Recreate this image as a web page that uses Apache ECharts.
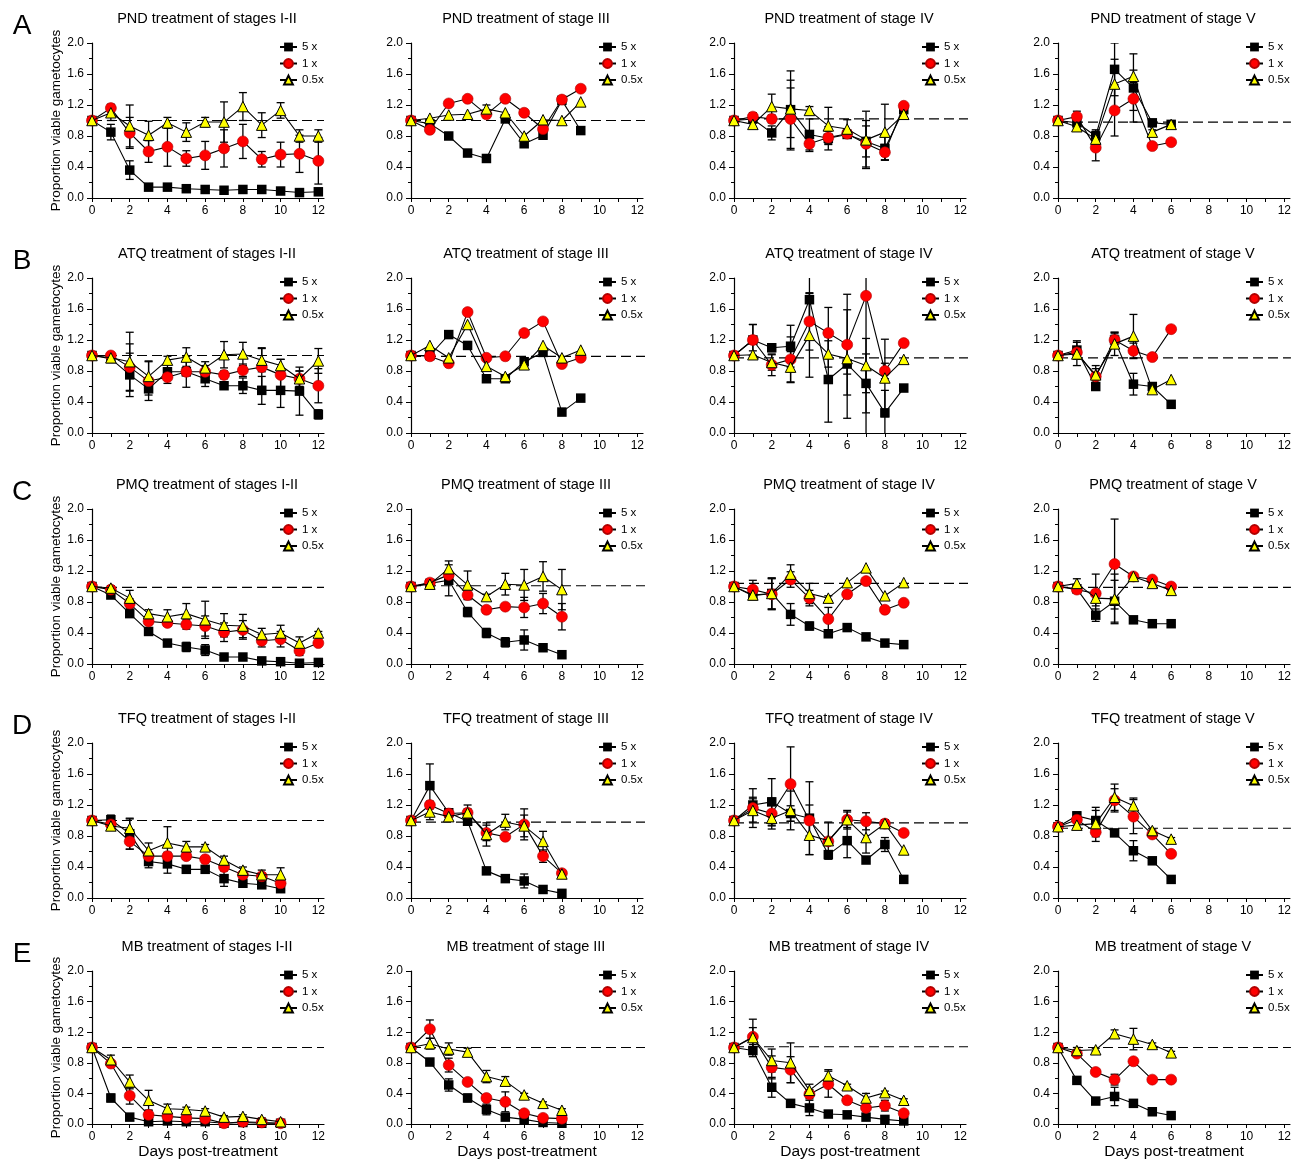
<!DOCTYPE html>
<html><head><meta charset="utf-8">
<script src="https://cdn.jsdelivr.net/npm/echarts@6/dist/echarts.min.js"></script>
<style>html,body{margin:0;padding:0;background:#fff}#chart{width:1294px;height:1161px}</style>
</head><body><div id="chart"></div>
<script>
const FONT = '"Liberation Sans", Arial, sans-serif';
const rowLetters = ['A', 'B', 'C', 'D', 'E'];
const drugs = ['PND', 'ATQ', 'PMQ', 'TFQ', 'MB'];
const stages = ['stages I-II', 'stage III', 'stage IV', 'stage V'];
const doseNames = ['5 x', '1 x', '0.5x'];
const xLabelValues = [0, 2, 4, 6, 8, 10, 12];
const xTickValues = [0, 1, 2, 3, 4, 5, 6, 7, 8, 9, 10, 11, 12];
const yAxisName = 'Proportion viable gametocytes';
const xAxisName = 'Days post-treatment';
// dashed reference level per panel (rows A-E, columns I-II, III, IV, V)
const refLevels = [
  [1.0, 1.0, 1.02, 0.98],
  [1.0, 0.99, 0.97, 0.97],
  [0.99, 1.01, 1.04, 0.99],
  [1.0, 0.98, 0.97, 0.90],
  [1.0, 1.0, 1.01, 1.0]
];
const refEnds = [12.3, 12.75, 12.5, 12.35];

// ---- A: PND ----
const A1_5x = [1.0,0.85,0.36,0.14,0.14,0.12,0.11,0.10,0.11,0.11,0.09,0.07,0.08];
const A1_5x_err = [0,0.1,0.12,0.02,0.02,0.02,0.02,0.02,0.02,0.02,0.02,0.02,0.02];
const A1_1x = [1.0,1.16,0.84,0.60,0.66,0.51,0.55,0.64,0.73,0.50,0.56,0.57,0.48];
const A1_1x_err = [0,0.05,0.2,0.14,0.25,0.1,0.18,0.24,0.22,0.1,0.16,0.24,0.3];
const A1_05x = [1.0,1.10,0.93,0.81,0.97,0.85,0.98,0.98,1.18,0.94,1.13,0.80,0.80];
const A1_05x_err = [0,0.1,0.27,0.18,0.07,0.12,0.06,0.26,0.18,0.16,0.1,0.08,0.08];

const A2_5x = [1.0,0.96,0.80,0.58,0.51,1.02,0.70,0.81,1.26,0.87];
const A2_5x_err = [0,0,0,0.02,0.02,0,0.02,0,0,0];
const A2_1x = [1.0,0.88,1.22,1.28,1.08,1.28,1.10,0.89,1.27,1.41];
const A2_1x_err = [0,0,0,0,0,0,0,0,0,0];
const A2_05x = [1.0,1.03,1.07,1.08,1.15,1.10,0.80,1.01,1.00,1.24];
const A2_05x_err = [0,0,0,0,0.05,0,0,0,0,0];

const A3_5x = [1.0,1.02,0.84,1.14,0.82,0.77,0.82,0.73,0.64,1.14];
const A3_5x_err = [0,0.05,0.09,0.5,0.2,0.15,0.05,0.2,0.15,0.03];
const A3_1x = [1.0,1.05,1.02,1.02,0.70,0.78,0.83,0.70,0.59,1.19];
const A3_1x_err = [0,0.05,0.05,0.4,0.1,0.08,0.05,0.3,0.1,0.03];
const A3_05x = [1.0,0.95,1.18,1.15,1.13,0.93,0.89,0.75,0.85,1.08];
const A3_05x_err = [0,0.04,0.16,0.37,0.05,0.24,0.12,0.37,0.36,0.03];

const A4_5x = [1.0,0.97,0.80,1.66,1.42,0.97,0.95];
const A4_5x_err = [0,0.07,0.08,0.34,0.44,0.03,0.03];
const A4_1x = [1.0,1.05,0.65,1.13,1.28,0.67,0.72];
const A4_1x_err = [0,0.07,0.17,0.33,0.15,0,0];
const A4_05x = [1.0,0.92,0.76,1.47,1.57,0.85,0.95];
const A4_05x_err = [0,0.06,0.1,0.32,0.08,0.03,0.04];

// ---- B: ATQ ----
const B1_5x = [1.0,0.96,0.75,0.57,0.79,0.79,0.70,0.61,0.61,0.55,0.55,0.54,0.24];
const B1_5x_err = [0,0.03,0.28,0.08,0.1,0.05,0.1,0.04,0.1,0.18,0.22,0.31,0.06];
const B1_1x = [1.0,1.0,0.85,0.67,0.72,0.79,0.79,0.75,0.81,0.85,0.75,0.70,0.61];
const B1_1x_err = [0,0.02,0.3,0.25,0.08,0.2,0.08,0.05,0.08,0.25,0.2,0.1,0.22];
const B1_05x = [1.0,0.97,0.92,0.73,0.94,0.98,0.84,1.01,1.02,0.94,0.87,0.70,0.93];
const B1_05x_err = [0,0.03,0.38,0.2,0.05,0.12,0.08,0.17,0.15,0.15,0.08,0.1,0.16];

const B2_5x = [1.0,1.0,1.27,1.13,0.70,0.70,0.92,1.04,0.27,0.45];
const B2_5x_err = [0,0,0,0,0,0,0,0,0,0];
const B2_1x = [1.0,0.99,0.90,1.56,0.97,0.99,1.29,1.44,0.89,0.97];
const B2_1x_err = [0,0,0,0,0,0,0,0,0,0];
const B2_05x = [1.0,1.13,0.97,1.40,0.86,0.73,0.88,1.13,0.97,1.07];
const B2_05x_err = [0,0,0,0,0,0,0,0,0,0];

const B3_5x = [1.0,1.20,1.10,1.12,1.72,0.69,0.89,0.64,0.26,0.58];
const B3_5x_err = [0,0.2,0.05,0.27,0.3,0.55,0.7,0.38,0.29,0];
const B3_1x = [1.0,1.20,0.88,0.95,1.44,1.29,1.14,1.77,0.80,1.16];
const B3_1x_err = [0,0.2,0.14,0.29,0.37,0.33,0.65,1.8,0.1,0];
const B3_05x = [1.0,1.01,0.91,0.85,1.26,1.02,0.96,0.87,0.71,0.95];
const B3_05x_err = [0,0.05,0.1,0.2,0.54,0.17,0.2,0.35,0.5,0];

const B4_5x = [1.0,1.07,0.60,1.20,0.63,0.60,0.37];
const B4_5x_err = [0,0.12,0.05,0.1,0.14,0,0];
const B4_1x = [1.0,1.04,0.73,1.20,1.06,0.98,1.34];
const B4_1x_err = [0,0.05,0.1,0.08,0.1,0,0];
const B4_05x = [1.0,1.02,0.75,1.15,1.25,0.56,0.69];
const B4_05x_err = [0,0.15,0.12,0.15,0.28,0,0];

// ---- C: PMQ ----
const C1_5x = [1.0,0.89,0.65,0.42,0.27,0.22,0.18,0.09,0.09,0.04,0.03,0.01,0.02];
const C1_5x_err = [0,0.03,0.04,0.03,0.03,0.06,0.07,0.03,0.03,0.02,0.02,0.02,0.02];
const C1_1x = [1.0,0.96,0.78,0.55,0.53,0.51,0.49,0.41,0.44,0.30,0.32,0.17,0.27];
const C1_1x_err = [0,0.03,0.06,0.04,0.04,0.06,0.13,0.12,0.12,0.08,0.1,0.06,0.02];
const C1_05x = [1.0,0.98,0.85,0.65,0.61,0.65,0.57,0.50,0.49,0.38,0.40,0.27,0.40];
const C1_05x_err = [0,0.03,0.1,0.05,0.09,0.13,0.24,0.15,0.15,0.08,0.1,0.08,0.02];

const C2_5x = [1.0,1.04,1.08,0.67,0.40,0.28,0.31,0.21,0.12];
const C2_5x_err = [0,0.03,0.2,0.06,0.06,0.06,0.13,0.04,0.04];
const C2_1x = [1.0,1.05,1.15,0.89,0.70,0.74,0.73,0.78,0.61];
const C2_1x_err = [0,0.03,0.05,0.06,0.04,0.03,0.13,0.13,0.17];
const C2_05x = [1.0,1.03,1.23,1.02,0.87,1.03,1.02,1.13,0.96];
const C2_05x_err = [0,0.03,0.1,0.18,0.03,0.14,0.2,0.19,0.26];

const C3_5x = [1.0,0.88,0.91,0.64,0.49,0.39,0.47,0.35,0.27,0.25];
const C3_5x_err = [0,0.03,0.2,0.14,0.05,0.03,0.02,0.02,0.02,0.02];
const C3_1x = [1.0,0.96,0.90,1.09,0.85,0.58,0.90,1.07,0.70,0.79];
const C3_1x_err = [0,0.12,0.2,0.1,0.1,0.15,0,0,0,0];
const C3_05x = [1.0,0.89,0.91,1.16,0.91,0.85,1.05,1.24,0.88,1.05];
const C3_05x_err = [0,0.03,0.2,0.12,0.13,0.03,0,0,0,0];

const C4_5x = [1.0,0.97,0.63,0.81,0.57,0.52,0.52];
const C4_5x_err = [0,0.03,0.08,0.27,0.02,0.02,0.02];
const C4_1x = [1.0,0.96,0.91,1.29,1.13,1.09,1.00];
const C4_1x_err = [0,0.03,0.25,0.58,0.02,0.02,0.02];
const C4_05x = [1.0,1.04,0.85,0.84,1.13,1.04,0.95];
const C4_05x_err = [0,0.06,0.1,0.32,0.02,0.02,0.02];

// ---- D: TFQ ----
const D1_5x = [1.0,1.01,0.83,0.47,0.44,0.37,0.37,0.25,0.19,0.17,0.12];
const D1_5x_err = [0,0.06,0.2,0.08,0.12,0.03,0.03,0.1,0.05,0.04,0.04];
const D1_1x = [1.0,0.95,0.73,0.54,0.54,0.54,0.50,0.40,0.30,0.28,0.19];
const D1_1x_err = [0,0.03,0.1,0.05,0.05,0.04,0.03,0.04,0.04,0.04,0.04];
const D1_05x = [1.0,0.93,0.90,0.61,0.71,0.66,0.66,0.49,0.36,0.30,0.30];
const D1_05x_err = [0,0.03,0.12,0.1,0.21,0.07,0.03,0.05,0.04,0.06,0.09];

const D2_5x = [1.0,1.45,1.10,0.99,0.35,0.25,0.22,0.11,0.06];
const D2_5x_err = [0,0.28,0.05,0.05,0.03,0.03,0.09,0.03,0.02];
const D2_1x = [1.0,1.20,1.09,1.10,0.84,0.79,0.95,0.54,0.32];
const D2_1x_err = [0,0.05,0.05,0.05,0.1,0.02,0.2,0.08,0.02];
const D2_05x = [1.0,1.11,1.05,1.10,0.82,0.98,0.93,0.73,0.31];
const D2_05x_err = [0,0.1,0.05,0.1,0.15,0.1,0.14,0.13,0.02];

const D3_5x = [1.0,1.20,1.24,1.09,1.03,0.56,0.74,0.49,0.69,0.24];
const D3_5x_err = [0,0.1,0.3,0.1,0.47,0.05,0.22,0.02,0.09,0];
const D3_1x = [1.0,1.16,1.09,1.47,1.00,0.73,1.01,0.99,0.96,0.84];
const D3_1x_err = [0,0.25,0.2,0.48,0.2,0.05,0.12,0.11,0.05,0];
const D3_05x = [1.0,1.13,1.03,1.13,0.81,0.74,1.01,0.78,0.96,0.62];
const D3_05x_err = [0,0.15,0.1,0.25,0.25,0.24,0.1,0.2,0.05,0];

const D4_5x = [0.92,1.06,1.00,0.84,0.61,0.48,0.24];
const D4_5x_err = [0,0.05,0.17,0.03,0.13,0.02,0.02];
const D4_1x = [0.92,1.01,0.85,1.26,1.05,0.82,0.57];
const D4_1x_err = [0,0.03,0.12,0.15,0.22,0.02,0.02];
const D4_05x = [0.92,0.94,0.96,1.30,1.19,0.87,0.76];
const D4_05x_err = [0,0.03,0.17,0.17,0.1,0.02,0.02];

// ---- E: MB ----
const E1_5x = [1.0,0.34,0.09,0.03,0.04,0.03,0.03,0.01,0.02,0.01,0.01];
const E1_5x_err = [0,0.05,0.03,0.02,0.02,0.02,0.02,0.01,0.01,0.01,0.01];
const E1_1x = [1.0,0.79,0.37,0.12,0.10,0.08,0.07,0.01,0.03,0.02,0.01];
const E1_1x_err = [0,0.03,0.11,0.06,0.03,0.02,0.02,0.01,0.01,0.01,0.01];
const E1_05x = [1.0,0.84,0.55,0.31,0.20,0.19,0.17,0.09,0.10,0.06,0.03];
const E1_05x_err = [0,0.06,0.09,0.13,0.06,0.03,0.03,0.02,0.02,0.02,0.02];

const E2_5x = [1.0,0.81,0.51,0.34,0.19,0.09,0.06,0.02,0.01];
const E2_5x_err = [0,0.02,0.08,0.05,0.07,0.02,0.02,0.01,0.01];
const E2_1x = [1.0,1.24,0.77,0.55,0.34,0.29,0.14,0.08,0.07];
const E2_1x_err = [0,0.12,0.09,0.03,0.03,0.13,0.03,0.02,0.02];
const E2_05x = [1.0,1.05,0.98,0.94,0.62,0.56,0.38,0.27,0.18];
const E2_05x_err = [0,0.07,0.08,0.05,0.08,0.06,0.02,0.02,0.02];

const E3_5x = [1.0,0.96,0.48,0.27,0.21,0.13,0.12,0.09,0.06,0.04];
const E3_5x_err = [0,0.08,0.13,0.04,0.1,0.02,0.02,0.02,0.02,0.02];
const E3_1x = [1.0,1.14,0.74,0.71,0.39,0.52,0.31,0.21,0.24,0.14];
const E3_1x_err = [0,0.23,0.15,0.17,0.06,0.17,0.02,0.04,0.07,0.02];
const E3_05x = [1.0,1.13,0.83,0.80,0.44,0.63,0.50,0.34,0.41,0.31];
const E3_05x_err = [0,0.13,0.15,0.26,0.08,0.08,0.02,0.06,0.02,0.02];

const E4_5x = [1.0,0.57,0.30,0.36,0.27,0.16,0.11];
const E4_5x_err = [0,0.02,0.02,0.12,0.02,0.02,0.02];
const E4_1x = [1.0,0.92,0.68,0.58,0.82,0.58,0.58];
const E4_1x_err = [0,0.03,0.02,0.07,0.02,0.02,0.02];
const E4_05x = [1.0,0.96,0.97,1.18,1.11,1.04,0.93];
const E4_05x_err = [0,0.04,0.02,0.05,0.14,0.02,0.02];

const panels = [
  [[A1_5x,A1_5x_err,A1_1x,A1_1x_err,A1_05x,A1_05x_err],[A2_5x,A2_5x_err,A2_1x,A2_1x_err,A2_05x,A2_05x_err],[A3_5x,A3_5x_err,A3_1x,A3_1x_err,A3_05x,A3_05x_err],[A4_5x,A4_5x_err,A4_1x,A4_1x_err,A4_05x,A4_05x_err]],
  [[B1_5x,B1_5x_err,B1_1x,B1_1x_err,B1_05x,B1_05x_err],[B2_5x,B2_5x_err,B2_1x,B2_1x_err,B2_05x,B2_05x_err],[B3_5x,B3_5x_err,B3_1x,B3_1x_err,B3_05x,B3_05x_err],[B4_5x,B4_5x_err,B4_1x,B4_1x_err,B4_05x,B4_05x_err]],
  [[C1_5x,C1_5x_err,C1_1x,C1_1x_err,C1_05x,C1_05x_err],[C2_5x,C2_5x_err,C2_1x,C2_1x_err,C2_05x,C2_05x_err],[C3_5x,C3_5x_err,C3_1x,C3_1x_err,C3_05x,C3_05x_err],[C4_5x,C4_5x_err,C4_1x,C4_1x_err,C4_05x,C4_05x_err]],
  [[D1_5x,D1_5x_err,D1_1x,D1_1x_err,D1_05x,D1_05x_err],[D2_5x,D2_5x_err,D2_1x,D2_1x_err,D2_05x,D2_05x_err],[D3_5x,D3_5x_err,D3_1x,D3_1x_err,D3_05x,D3_05x_err],[D4_5x,D4_5x_err,D4_1x,D4_1x_err,D4_05x,D4_05x_err]],
  [[E1_5x,E1_5x_err,E1_1x,E1_1x_err,E1_05x,E1_05x_err],[E2_5x,E2_5x_err,E2_1x,E2_1x_err,E2_05x,E2_05x_err],[E3_5x,E3_5x_err,E3_1x,E3_1x_err,E3_05x,E3_05x_err],[E4_5x,E4_5x_err,E4_1x,E4_1x_err,E4_05x,E4_05x_err]]
];

// ---- layout & styles ----
const gridLeft = [92, 411, 734, 1058];
const gridTop = [43, 278, 509, 743, 971];
const GW = 232, GH = 155, XMAX = 12.3;
const doseStyles = [
  {symbol: 'rect', size: 9.5, item: {color: '#000000', borderColor: '#000', borderWidth: 0}},
  {symbol: 'circle', size: 11, item: {color: '#ff0000', borderColor: '#b00000', borderWidth: 0.6}},
  {symbol: 'triangle', size: 10.5, item: {color: '#ffff00', borderColor: '#000', borderWidth: 1}}
];

function errRender(params, api) {
  const x = api.value(0), lo = api.value(1), hi = api.value(2);
  const p1 = api.coord([x, hi]), p2 = api.coord([x, lo]);
  const w = 4, st = {stroke: '#000', lineWidth: 1.3};
  return {type: 'group', children: [
    {type: 'line', shape: {x1: p1[0], y1: p1[1], x2: p2[0], y2: p2[1]}, style: st},
    {type: 'line', shape: {x1: p1[0] - w, y1: p1[1], x2: p1[0] + w, y2: p1[1]}, style: st},
    {type: 'line', shape: {x1: p2[0] - w, y1: p2[1], x2: p2[0] + w, y2: p2[1]}, style: st}
  ]};
}

const grid = [], xAxis = [], yAxis = [], series = [], legend = [], graphic = [];
let k = 0;
for (let r = 0; r < 5; r++) {
  graphic.push({type: 'text', x: 22, y: gridTop[r] - 17, style: {text: rowLetters[r], font: '28px ' + FONT, fill: '#000', align: 'center', verticalAlign: 'middle'}});
  for (let c = 0; c < 4; c++) {
    const gl = gridLeft[c], gt = gridTop[r];
    grid.push({left: gl, top: gt, width: GW, height: GH});
    graphic.push({type: 'text', x: gl + GW / 2 - 1, y: gt - 24, style: {text: drugs[r] + ' treatment of ' + stages[c], font: '14.5px ' + FONT, fill: '#000', align: 'center', verticalAlign: 'middle'}});
    xAxis.push({
      type: 'value', gridIndex: k, min: 0, max: XMAX, interval: 2,
      axisLine: {lineStyle: {color: '#000', width: 1.2}},
      axisTick: {customValues: xTickValues, length: 4, lineStyle: {color: '#000', width: 1}},
      axisLabel: {customValues: xLabelValues, fontSize: 12, color: '#000', margin: 7, fontFamily: FONT,
        formatter: v => (v % 2 === 0 && v <= 12 ? String(v) : '')},
      splitLine: {show: false},
      name: r === 4 ? xAxisName : '', nameLocation: 'middle', nameGap: 20,
      nameTextStyle: {fontSize: 15.5, color: '#000', fontFamily: FONT}
    });
    yAxis.push({
      type: 'value', gridIndex: k, min: 0, max: 2, interval: 0.4,
      axisLine: {show: true, lineStyle: {color: '#000', width: 1.2}},
      axisTick: {show: true, length: 5, lineStyle: {color: '#000', width: 1}},
      minorTick: {show: true, splitNumber: 2, length: 3, lineStyle: {color: '#000', width: 1}},
      axisLabel: {fontSize: 12, color: '#000', margin: 8, fontFamily: FONT, formatter: v => v.toFixed(1)},
      splitLine: {show: false},
      name: c === 0 ? yAxisName : '', nameLocation: 'middle', nameGap: 27,
      nameTextStyle: {fontSize: 13.5, color: '#000', fontFamily: FONT}
    });
    const p = panels[r][c];
    // dashed reference line
    series.push({
      type: 'line', name: 'ref', xAxisIndex: k, yAxisIndex: k, silent: true, clip: false,
      data: [[0, refLevels[r][c]], [refEnds[c], refLevels[r][c]]], symbol: 'none',
      lineStyle: {color: '#000', width: 1.2, type: [10, 5]}, z: 1, animation: false
    });
    // error bars
    const errData = [];
    for (let d = 0; d < 3; d++) {
      const vals = p[d * 2], errs = p[d * 2 + 1];
      vals.forEach((v, i) => { if (errs[i] > 0) errData.push([i, v - errs[i], v + errs[i]]); });
    }
    series.push({
      type: 'custom', name: 'err', xAxisIndex: k, yAxisIndex: k, silent: true, clip: true,
      renderItem: errRender, data: errData, encode: {x: 0, y: [1, 2]}, z: 2, animation: false
    });
    for (let d = 0; d < 3; d++) {
      const s = doseStyles[d];
      series.push({
        type: 'line', name: doseNames[d], xAxisIndex: k, yAxisIndex: k,
        data: p[d * 2].map((v, i) => [i, v]),
        symbol: s.symbol, symbolSize: s.size, showAllSymbol: true,
        itemStyle: s.item, lineStyle: {color: '#000', width: 1.1},
        z: 3 + d, animation: false
      });
    }
    legend.push({
      orient: 'vertical', left: gl + 187, top: gt - 2, itemWidth: 17, itemHeight: 11, itemGap: 4.5,
      padding: 0, selectedMode: false, data: doseNames,
      textStyle: {fontSize: 11.5, color: '#000', fontFamily: FONT}
    });
    k++;
  }
}

const chart = echarts.init(document.getElementById('chart'), null, {renderer: 'canvas'});
chart.setOption({backgroundColor: '#fff', animation: false, textStyle: {fontFamily: FONT}, grid, xAxis, yAxis, series, legend, graphic});
</script></body></html>
